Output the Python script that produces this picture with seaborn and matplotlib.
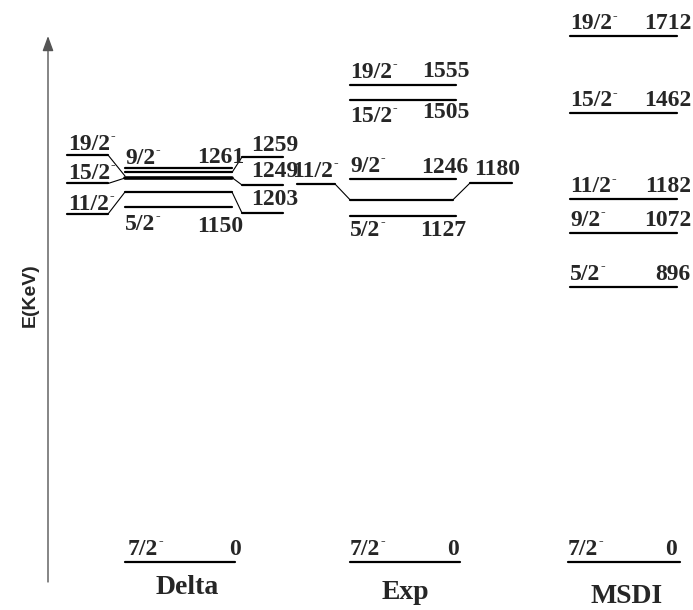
import matplotlib
matplotlib.use("Agg")
import matplotlib.pyplot as plt
import seaborn as sns
import pandas as pd

sns.set_theme(style="white")
plt.rcParams["font.family"] = ["Liberation Serif", "DejaVu Serif"]

# ---------------- data ----------------
models = ["Delta", "Exp", "MSDI"]
delta_spins = ["7/2", "5/2", "11/2", "15/2", "19/2", "9/2"]
delta_E = [0, 1150, 1203, 1249, 1259, 1261]
exp_spins = ["7/2", "5/2", "11/2", "9/2", "15/2", "19/2"]
exp_E = [0, 1127, 1180, 1246, 1505, 1555]
msdi_spins = ["7/2", "5/2", "9/2", "11/2", "15/2", "19/2"]
msdi_E = [0, 896, 1072, 1182, 1462, 1712]
y_label = "E(KeV)"

# ---------------- layout (pixels) ----------------
W, H = 693, 610
PX_PER_KEV = 0.307
Y0 = 562.0


def e_of_px(y):
    return (Y0 - y) / PX_PER_KEV


def px_of_e(e):
    return Y0 - e * PX_PER_KEV


fig = plt.figure(figsize=(W / 100, H / 100), dpi=100)
ax = fig.add_axes([0, 0, 1, 1])
ax.set_xlim(0, W)
ax.set_ylim(e_of_px(H), e_of_px(0))

level_segs = []
thick_segs = []
conn_segs = []
sid = [0]


def seg(store, x1, y1px, x2, y2px):
    sid[0] += 1
    store.append({"seg": sid[0], "x": x1, "E": e_of_px(y1px)})
    store.append({"seg": sid[0], "x": x2, "E": e_of_px(y2px)})


LBL = 17


def spin_text(x, ybase, s):
    t = ax.text(x, e_of_px(ybase), s, fontsize=LBL,
                fontweight="bold", ha="left", va="baseline")
    ax.annotate("-", xy=(1.0, 1.0), xycoords=t, xytext=(0.5, 2.5),
                textcoords="offset points", fontsize=10, fontweight="bold",
                ha="left", va="top")


def en_text(x, ybase, s, ha="left"):
    ax.text(x, e_of_px(ybase), s, fontsize=LBL, fontweight="bold",
            ha=ha, va="baseline")


# ---- Delta column ----
d_nudge = {0: 0, 1150: -2, 1203: -0.7, 1249: -1, 1259: -3, 1261: -7}
d_row = {e: px_of_e(e) + d_nudge[e] for e in delta_E}
for e in delta_E:
    x2 = 235 if e == 0 else 232
    seg(thick_segs if e == 1249 else level_segs, 125, d_row[e], x2, d_row[e])
# side label rows
d_left = {1259: 155, 1249: 183.5, 1203: 214}
d_left_end = {1259: 176, 1249: 178, 1203: 192}
d_right = {1259: 157, 1249: 185, 1203: 213}
for e in d_left:
    seg(level_segs, 67, d_left[e], 108, d_left[e])
    seg(conn_segs, 108, d_left[e], 125, d_left_end[e])
    seg(level_segs, 242, d_right[e], 283, d_right[e])
    seg(conn_segs, 232, d_row[e], 242, d_right[e])

d_spin_pos = {0: (128, 555), 1150: (125, 230), 1203: (68, 210),
              1249: (68, 179), 1259: (68, 150), 1261: (125, 164)}
d_en_pos = {0: (229, 555), 1150: (197, 232), 1203: (251, 205),
            1249: (251, 177), 1259: (251, 151), 1261: (197, 163)}
for s, e in zip(delta_spins, delta_E):
    spin_text(*d_spin_pos[e], s)
    en_text(*d_en_pos[e], str(e))

# ---- Exp column ----
for e in exp_E:
    r = px_of_e(e)
    if e == 1180:
        seg(level_segs, 350, r, 453, r)
        seg(level_segs, 297, 184, 335, 184)
        seg(conn_segs, 335, 184, 350, r)
        seg(level_segs, 470, 183, 512, 183)
        seg(conn_segs, 453, r, 470, 183)
    else:
        seg(level_segs, 350, r, 460 if e == 0 else 456, r)

x_spin_pos = {0: (350, 555), 1127: (350, 236), 1180: (292, 177),
              1246: (350, 172), 1505: (350, 122), 1555: (350, 78)}
x_en_pos = {0: (447, 555), 1127: (420, 236), 1180: (474, 175),
            1246: (421, 173), 1505: (422, 118), 1555: (422, 77)}
for s, e in zip(exp_spins, exp_E):
    spin_text(*x_spin_pos[e], s)
    en_text(*x_en_pos[e], str(e))

# ---- MSDI column ----
for s, e in zip(msdi_spins, msdi_E):
    r = px_of_e(e)
    if e == 0:
        seg(level_segs, 568, r, 680, r)
        spin_text(568, 555, s)
        en_text(677, 555, str(e), ha="right")
    else:
        seg(level_segs, 570, r, 677, r)
        spin_text(570, r - 7, s)
        en_text(691, r - 7, str(e), ha="right")

# ---- draw segments with seaborn ----
for data, lw in ((level_segs, 1.6), (thick_segs, 2.6), (conn_segs, 0.8)):
    df = pd.DataFrame(data)
    sns.lineplot(data=df, x="x", y="E", units="seg", estimator=None,
                 sort=False, color="black", lw=lw, ax=ax, legend=False)

# column titles
title_pos = {"Delta": (187, 594), "Exp": (405, 599), "MSDI": (627, 603)}
for m in models:
    x, yb = title_pos[m]
    ax.text(x, e_of_px(yb), m, fontsize=20, fontweight="bold",
            ha="center", va="baseline")

# energy axis arrow + label
ax.annotate("", xy=(48, e_of_px(36)), xytext=(48, e_of_px(582)),
            arrowprops=dict(arrowstyle="-|>,head_length=0.6,head_width=0.22",
                            color="#555555", lw=1.0, mutation_scale=15,
                            shrinkA=0, shrinkB=0))
ax.text(30, e_of_px(295), y_label, rotation=90, fontsize=14,
        fontweight="bold", family=["Liberation Sans", "DejaVu Sans"],
        ha="center", va="center")

ax.set_xlim(0, W)
ax.set_ylim(e_of_px(H), e_of_px(0))
ax.set_axis_off()
fig.savefig("out.png", dpi=100)
